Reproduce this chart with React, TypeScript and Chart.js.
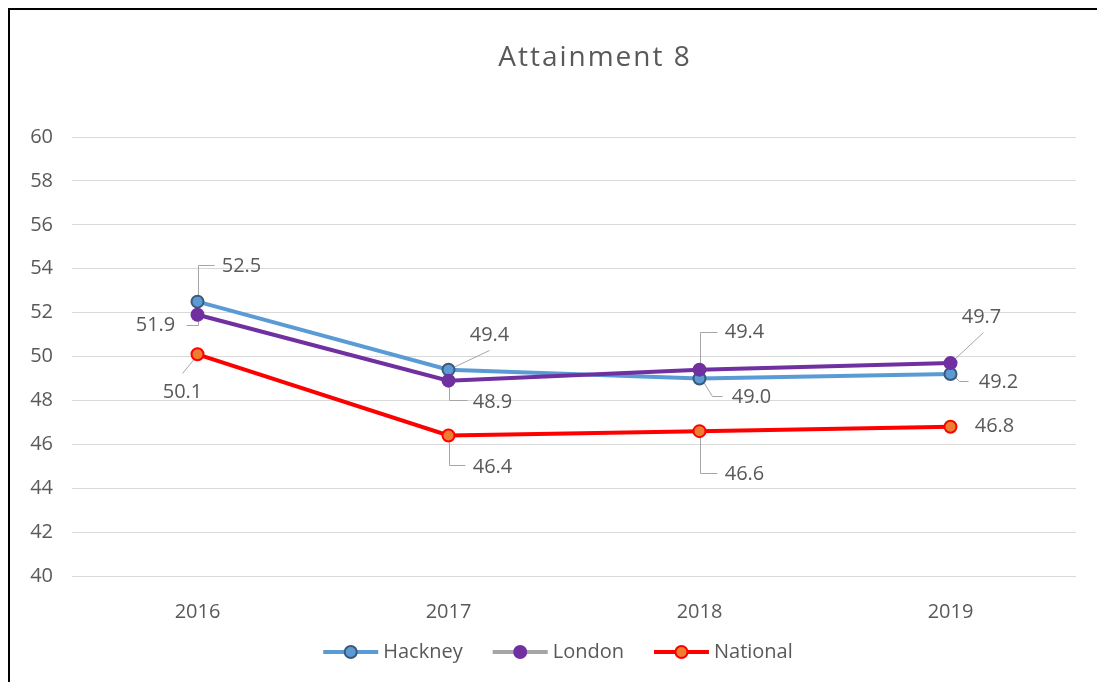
import React, { useEffect, useRef } from "react";
import { Chart, registerables } from "chart.js";

Chart.register(...registerables);

const years = ["2016", "2017", "2018", "2019"];
const hackney = [52.5, 49.4, 49.0, 49.2];
const london = [51.9, 48.9, 49.4, 49.7];
const national = [50.1, 46.4, 46.6, 46.8];
const yMin = 40;
const yMax = 60;
const yStep = 2;
const chartTitle = "Attainment 8";
const seriesNames = ["Hackney", "London", "National"];

// label placement (pixel offsets from the point), kept apart from the data
type Place = { dx: number; dy: number; leader: number[][] | null };
const hackneyPlaces: Place[] = [
  { dx: 44, dy: -35, leader: [[0, -7], [0, -37], [16, -37]] },
  { dx: 41, dy: -34, leader: [[4, -3], [40, -20]] },
  { dx: 52, dy: 19, leader: [[4, 5], [12, 18], [22, 18]] },
  { dx: 48, dy: 8, leader: [[4, 3], [8, 7], [17, 7]] },
];
const londonPlaces: Place[] = [
  { dx: -42, dy: 11, leader: [[0, 5], [0, 10], [-12, 10]] },
  { dx: 44, dy: 22, leader: [[0, 6], [0, 19.5], [18, 19.5]] },
  { dx: 45, dy: -37, leader: [[0, -6], [0, -38], [17, -38]] },
  { dx: 31, dy: -46, leader: [[2, -3], [32, -31]] },
];
const nationalPlaces: Place[] = [
  { dx: -15, dy: 38, leader: [[-2, 2], [-16, 19]] },
  { dx: 44, dy: 31.5, leader: [[0, 6], [0, 29.5], [16, 29.5]] },
  { dx: 45, dy: 43, leader: [[0, 6], [0, 42], [17, 42]] },
  { dx: 44, dy: 0, leader: null },
];

const FONT = "'Open Sans', 'DejaVu Sans', sans-serif";
const TEXT = "#595959";
const W = 1089;
const H = 674;

const legendItems = [
  { text: seriesNames[0], line: "#5B9BD5", fill: "#5B9BD5", border: "#3B5A78" },
  { text: seriesNames[1], line: "#A5A5A5", fill: "#7030A0", border: "#7030A0" },
  { text: seriesNames[2], line: "#FF0000", fill: "#ED7D31", border: "#FF0000" },
];

const labelsPlugin = {
  id: "customLabels",
  beforeDatasetsDraw(chart: any) {
    const ctx = chart.ctx;
    const places = [hackneyPlaces, londonPlaces, nationalPlaces];
    ctx.save();
    ctx.strokeStyle = "#A6A6A6";
    ctx.lineWidth = 1;
    chart.data.datasets.forEach((ds: any, di: number) => {
      const meta = chart.getDatasetMeta(di);
      meta.data.forEach((pt: any, i: number) => {
        const p = places[di][i];
        if (!p || !p.leader) return;
        ctx.beginPath();
        p.leader.forEach((q, k) => {
          const x = Math.round(pt.x + q[0]) + 0.5;
          const y = Math.round(pt.y + q[1]) + 0.5;
          if (k === 0) ctx.moveTo(x, y);
          else ctx.lineTo(x, y);
        });
        ctx.stroke();
      });
    });
    ctx.restore();
  },
  afterDatasetsDraw(chart: any) {
    const ctx = chart.ctx;
    const places = [hackneyPlaces, londonPlaces, nationalPlaces];
    ctx.save();
    ctx.fillStyle = TEXT;
    ctx.font = `20px ${FONT}`;
    ctx.textAlign = "center";
    ctx.textBaseline = "middle";
    chart.data.datasets.forEach((ds: any, di: number) => {
      const meta = chart.getDatasetMeta(di);
      meta.data.forEach((pt: any, i: number) => {
        const p = places[di][i];
        const v = ds.data[i] as number;
        ctx.fillText(v.toFixed(1), pt.x + p.dx, pt.y + p.dy);
      });
    });
    ctx.restore();
  },
  afterDraw(chart: any) {
    const ctx = chart.ctx;
    ctx.save();
    // title
    ctx.fillStyle = TEXT;
    ctx.font = `28px ${FONT}`;
    (ctx as any).letterSpacing = "2px";
    ctx.textAlign = "center";
    ctx.textBaseline = "middle";
    ctx.fillText(chartTitle, 587, 50);
    (ctx as any).letterSpacing = "0px";

    // legend
    ctx.font = `20px ${FONT}`;
    ctx.textAlign = "left";
    const lineLen = 55;
    const gapText = 5;
    const gapItem = 30;
    const widths = legendItems.map((it) => lineLen + gapText + ctx.measureText(it.text).width);
    const total = widths.reduce((a, b) => a + b, 0) + gapItem * (legendItems.length - 1);
    let x = 550 - total / 2;
    const y = 644;
    legendItems.forEach((it, i) => {
      ctx.strokeStyle = it.line;
      ctx.lineWidth = 4;
      ctx.beginPath();
      ctx.moveTo(x, y);
      ctx.lineTo(x + lineLen, y);
      ctx.stroke();
      ctx.beginPath();
      ctx.arc(x + lineLen / 2, y, 6, 0, Math.PI * 2);
      ctx.fillStyle = it.fill;
      ctx.fill();
      ctx.lineWidth = 2;
      ctx.strokeStyle = it.border;
      ctx.stroke();
      ctx.fillStyle = TEXT;
      ctx.textBaseline = "middle";
      ctx.fillText(it.text, x + lineLen + gapText, y);
      x += widths[i] + gapItem;
    });
    ctx.restore();
  },
};

export default function App() {
  const ref = useRef<HTMLCanvasElement | null>(null);

  useEffect(() => {
    if (!ref.current) return;
    const chart = new Chart(ref.current, {
      type: "line",
      data: {
        labels: years,
        datasets: [
          {
            label: seriesNames[0],
            data: hackney,
            borderColor: "#5B9BD5",
            borderWidth: 4,
            pointBackgroundColor: "#5B9BD5",
            pointBorderColor: "#3B5A78",
            pointBorderWidth: 2,
            pointRadius: 6,
            tension: 0,
            order: 2,
          },
          {
            label: seriesNames[1],
            data: london,
            borderColor: "#7030A0",
            borderWidth: 4,
            pointBackgroundColor: "#7030A0",
            pointBorderColor: "#7030A0",
            pointBorderWidth: 2,
            pointRadius: 6,
            tension: 0,
            order: 1,
          },
          {
            label: seriesNames[2],
            data: national,
            borderColor: "#FF0000",
            borderWidth: 4,
            pointBackgroundColor: "#ED7D31",
            pointBorderColor: "#FF0000",
            pointBorderWidth: 2,
            pointRadius: 6,
            tension: 0,
            order: 0,
          },
        ],
      },
      options: {
        responsive: false,
        animation: false,
        devicePixelRatio: 1,
        layout: { padding: { top: 129, right: 21, left: 0, bottom: 0 } },
        plugins: {
          legend: { display: false },
          title: { display: false },
          tooltip: { enabled: false },
        },
        scales: {
          x: {
            offset: true,
            grid: { display: false },
            border: { display: false },
            ticks: { color: TEXT, font: { size: 20, family: FONT }, padding: 16 },
            afterFit: (s: any) => {
              s.height = 106;
            },
          },
          y: {
            min: yMin,
            max: yMax,
            grid: { color: "#D9D9D9", lineWidth: 1, drawTicks: false },
            border: { display: false },
            ticks: {
              stepSize: yStep,
              color: TEXT,
              font: { size: 20, family: FONT },
              padding: 19,
            },
            afterFit: (s: any) => {
              s.width = 64;
            },
          },
        },
      },
      plugins: [labelsPlugin],
    });
    return () => chart.destroy();
  }, []);

  return (
    <div style={{ position: "fixed", left: 8, top: 8, width: W, height: H, overflow: "hidden" }}>
      <canvas ref={ref} width={W} height={H} style={{ position: "absolute", left: 0, top: 0, width: W, height: H }} />
      <div style={{ position: "absolute", left: 0, top: 0, width: W, height: 2, background: "#000" }} />
      <div style={{ position: "absolute", left: 0, top: 0, width: 2, height: H, background: "#000" }} />
    </div>
  );
}
